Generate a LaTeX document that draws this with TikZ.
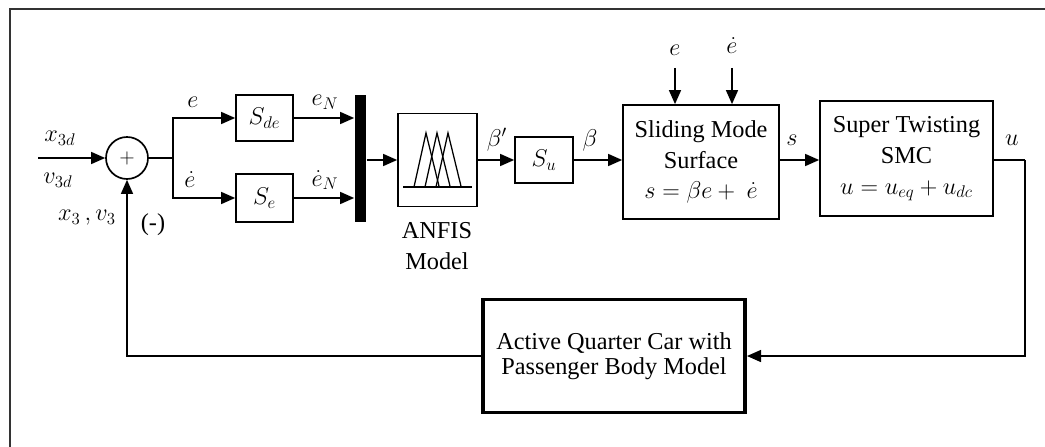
\documentclass[tikz,border=0pt]{standalone}
\usepackage{amsmath}
\usepackage{fontspec}
\setmainfont{Liberation Serif}
\usetikzlibrary{arrows.meta,positioning}

\begin{document}
\begin{tikzpicture}[
    font=\LARGE, line width=1.2pt,
    >={Triangle[length=10pt,width=8.5pt]},
    blk/.style={draw,align=center,inner sep=2pt},
    plantblk/.style={draw,align=center,line width=2.8pt},
    lbl/.style={inner sep=0pt}]

  \useasboundingbox (0,0) rectangle (26.125,-11.175);
  \draw[line width=1.6pt,black!80] (0.25,-11.175) -- (0.25,-0.225) -- (26.125,-0.225);

  % --- summing junction, the error and its rate
  \coordinate (ref) at (0.95,-3.95);
  \node[draw,circle,minimum size=1.05cm,inner sep=0pt,font=\Large] (sum) at (3.175,-3.95) {$+$};
  \node[lbl] at (1.5,-3.45) {$x_{3d}$};
  \node[lbl] at (1.45,-4.5) {$v_{3d}$};
  \node[lbl] at (2.175,-5.45) {$x_3\,,v_3$};
  \node[lbl] at (3.825,-5.625) {(-)};
  \draw[->] (ref) -- (sum);

  \coordinate (split) at (4.325,-3.95);
  \node[blk,minimum width=1.425cm,minimum height=1.15cm] (sde) at (6.6125,-2.95) {$S_{de}$};
  \node[blk,minimum width=1.425cm,minimum height=1.2cm] (se) at (6.6125,-4.95) {$S_{e}$};
  \draw (sum) -- (split);
  \draw[->] (split) |- (sde);
  \draw[->] (split) |- (se);
  \node[lbl] at (4.825,-2.55) {$e$};
  \node[lbl] at (4.75,-4.5) {$\dot{e}$};

  % --- mux bar and the fuzzy block
  \node[fill,minimum width=0.275cm,minimum height=3.175cm,inner sep=0pt] (mux) at (9.0125,-3.9625) {};
  \draw[->] (sde) -- (sde -| mux.west);
  \draw[->] (se) -- (se -| mux.west);
  \node[lbl] at (8.125,-2.55) {$e_N$};
  \node[lbl] at (8.125,-4.5) {$\dot{e}_N$};

  \node[blk,minimum width=1.975cm,minimum height=2.325cm] (anfis) at (10.9375,-4.0) {};
  \draw[->] (mux.east |- anfis) -- (anfis);
  \draw[line width=1pt] ([shift={(-0.8625,-0.675)}]anfis.center) -- ++(1.725,0);
  \foreach \px in {-0.2875,-0.0125,0.2625}
    \draw[line width=0.9pt] ([shift={({\px-0.3},-0.675)}]anfis.center) -- ++(0.3,1.35) -- ++(0.33,-1.35);
  \node[align=center] (anfislbl) at (10.925,-6.15) {ANFIS\\Model};

  % --- scaling, surface and controller
  \node[blk,minimum width=1.45cm,minimum height=1.15cm] (su) at (13.6,-4.0) {$S_u$};
  \draw[->] (anfis) -- (su);
  \node[lbl] at (12.425,-3.5) {$\beta'$};

  \node[blk,minimum width=3.9cm,minimum height=2.85cm] (sms) at (17.525,-4.05)
       {Sliding Mode\\Surface\\$s=\beta e+\ \dot{e}$};
  \draw[->] (su) -- (su -| sms.west);
  \node[lbl] at (14.75,-3.5) {$\beta$};
  \coordinate (ein) at (16.875,-1.7);
  \coordinate (edin) at (18.3,-1.7);
  \draw[->] (ein) -- (ein |- sms.north);
  \draw[->] (edin) -- (edin |- sms.north);
  \node[lbl] at (16.875,-1.25) {$e$};
  \node[lbl] at (18.3,-1.15) {$\dot{e}$};

  \node[blk,minimum width=4.325cm,minimum height=2.875cm] (stsmc) at (22.6625,-3.9625)
       {Super Twisting\\SMC\\$u=u_{eq}+u_{dc}$};
  \draw[->] (su -| sms.east) -- (su -| stsmc.west);
  \node[lbl] at (19.8,-3.5) {$s$};

  % --- plant and the loop back
  \coordinate (uout) at (25.625,-4.0);
  \draw (su -| stsmc.east) -- (uout);
  \node[lbl] at (25.3,-3.5) {$u$};
  \node[plantblk,minimum width=6.55cm,minimum height=2.825cm] (plant) at (15.35,-8.9)
       {Active Quarter Car with\\[-4pt]Passenger Body Model};
  \draw[->] (uout) |- (plant);
  \draw[->] (plant) -| (sum);
\end{tikzpicture}
\end{document}
